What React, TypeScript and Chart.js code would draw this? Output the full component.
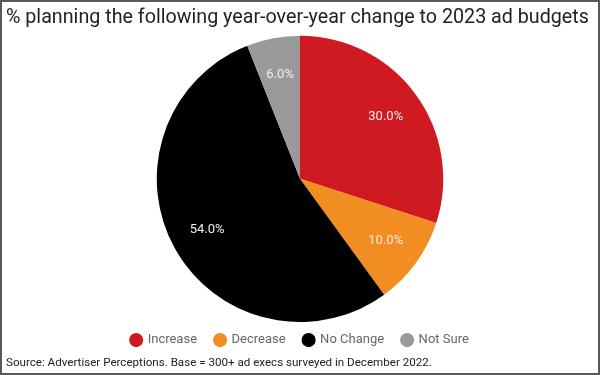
import React, { useEffect, useRef } from "react";
import { Chart, registerables } from "chart.js";

Chart.register(...registerables);

const TITLE = "% planning the following year-over-year change to 2023 ad budgets";
const SOURCE = "Source: Advertiser Perceptions. Base = 300+ ad execs surveyed in December 2022.";
const categories = ["Increase", "Decrease", "No Change", "Not Sure"];
const values = [30.0, 10.0, 54.0, 6.0];
const colors = ["#CF1A21", "#F28D22", "#000000", "#9A9A9A"];

const labelPlugin = {
  id: "sliceLabels",
  afterDatasetsDraw(chart: any) {
    const meta = chart.getDatasetMeta(0);
    const ctx = chart.ctx;
    ctx.save();
    ctx.font = "13px Roboto";
    ctx.fillStyle = "#F3EDED";
    ctx.textAlign = "center";
    ctx.textBaseline = "middle";
    meta.data.forEach((arc: any, i: number) => {
      const { x, y, startAngle, endAngle, outerRadius } = arc.getProps(
        ["x", "y", "startAngle", "endAngle", "outerRadius"],
        true
      );
      const mid = (startAngle + endAngle) / 2;
      const r = outerRadius * 0.74;
      ctx.fillText(values[i].toFixed(1) + "%", x + Math.cos(mid) * r, y + Math.sin(mid) * r);
    });
    ctx.restore();
  },
};

// tighten the legend box vertically while keeping its horizontal item spacing
const legendTweak = {
  id: "legendTweak",
  beforeLayout(chart: any) {
    const legend = chart.legend;
    if (legend && !legend.__patched) {
      legend.__patched = true;
      const origFit = legend.fit.bind(legend);
      legend.fit = function () {
        origFit();
        this.height = 32;
      };
      const origDraw = legend.draw.bind(legend);
      legend.draw = function () {
        const t = this.top;
        const b = this.bottom;
        this.top = t - 6.5;
        this.bottom = b - 6.5;
        origDraw();
        this.top = t;
        this.bottom = b;
      };
    }
  },
};

export default function App() {
  const ref = useRef<HTMLCanvasElement>(null);
  useEffect(() => {
    document.body.style.margin = "0";
    const chart = new Chart(ref.current!, {
      type: "pie",
      data: {
        labels: categories,
        datasets: [
          {
            data: values,
            backgroundColor: colors,
            borderWidth: 0,
          },
        ],
      },
      options: {
        animation: false,
        responsive: false,
        layout: { padding: { left: 4, right: 4, top: 0, bottom: 0 } },
        plugins: {
          title: {
            display: true,
            text: TITLE,
            align: "start",
            color: "#222222",
            font: { family: "Roboto", size: 19.7, weight: "normal", lineHeight: 1.2 },
            padding: { top: 4, bottom: 6 },
          },
          subtitle: {
            display: true,
            text: SOURCE,
            position: "bottom",
            align: "start",
            color: "#222222",
            font: { family: "Roboto", size: 11.6, weight: "normal", lineHeight: 1.2 },
            padding: { top: 2, bottom: 3 },
          },
          legend: {
            position: "bottom",
            labels: {
              usePointStyle: true,
              pointStyle: "circle",
              boxWidth: 10,
              boxHeight: 10,
              padding: 18,
              color: "#666666",
              font: { family: "Roboto", size: 13 },
            },
          },
          tooltip: { enabled: false },
        },
      },
      plugins: [labelPlugin, legendTweak],
    });
    return () => chart.destroy();
  }, []);
  return (
    <div
      style={{
        position: "fixed",
        left: 0,
        top: 0,
        width: 600,
        height: 375,
        boxSizing: "border-box",
        border: "2px solid #5a5a5a",
        background: "#fff",
      }}
    >
      <canvas ref={ref} width={596} height={371} style={{ display: "block" }} />
    </div>
  );
}
